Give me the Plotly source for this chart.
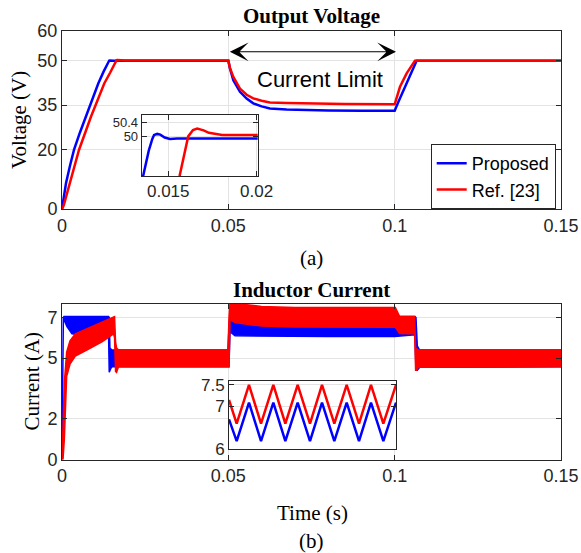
import plotly.graph_objects as go

# ---------------- data ----------------
# Output voltage (V) vs time (s)
t_v_prop = [0, 0.0005, 0.0012, 0.0024, 0.0036, 0.0054, 0.0072, 0.009, 0.0109, 0.0125,
            0.0136, 0.0139, 0.0141, 0.0142, 0.01438, 0.01455, 0.0148, 0.0151, 0.0155,
            0.05, 0.0505, 0.0515, 0.0535, 0.0555, 0.0575, 0.06, 0.0625, 0.0675, 0.0725,
            0.08, 0.09, 0.1, 0.1011, 0.1031, 0.1051, 0.1066, 0.15]
v_prop = [0, 4.2, 8.65, 14.6, 19.9, 25.8, 31.1, 36.8, 42.3, 46.3,
          48.93, 49.6, 49.93, 50.04, 50.07, 50.05, 49.97, 49.93, 49.94,
          49.94, 47.3, 43.4, 39.5, 37.2, 35.6, 34.6, 33.9, 33.5, 33.3,
          33.2, 33.15, 33.1, 36.1, 41.2, 46.2, 50.0, 50.0]

t_v_ref = [0, 0.0005, 0.0012, 0.0024, 0.0051, 0.0087, 0.0127, 0.0145, 0.01566, 0.0159,
           0.01613, 0.0164, 0.01664, 0.0170, 0.0173, 0.01805, 0.019,
           0.05, 0.0505, 0.0515, 0.0535, 0.0555, 0.0575, 0.06, 0.0625, 0.0675, 0.0725,
           0.085, 0.1, 0.1006, 0.1016, 0.1036, 0.105, 0.1061, 0.15]
v_ref = [0, 1.2, 4.0, 8.65, 19.9, 31.1, 42.3, 46.0, 48.93, 49.5,
         50.0, 50.18, 50.22, 50.17, 50.1, 50.04, 50.02,
         50.02, 47.5, 44.5, 40.6, 38.5, 37.3, 36.5, 35.9, 35.7, 35.6,
         35.4, 35.3, 37.8, 41.2, 45.7, 48.2, 50.0, 50.0]

# Inductor current ripple envelopes (A) vs time (s)
t_i_prop = [0, 0.0002, 0.0004, 0.0006, 0.0015, 0.003, 0.008, 0.0140, 0.0142, 0.0144,
            0.0147, 0.0150, 0.03, 0.0499, 0.0502, 0.0505, 0.052, 0.06, 0.08, 0.1,
            0.103, 0.1061, 0.1064, 0.1068, 0.1075, 0.15]
i_prop_hi = [0, 4.0, 7.0, 7.05, 7.05, 7.05, 7.05, 7.05, 7.0, 5.5,
             5.45, 5.4, 5.4, 5.4, 6.6, 7.15, 7.1, 7.08, 7.05, 7.05,
             7.05, 7.05, 7.0, 5.6, 5.4, 5.4]
i_prop_lo = [0, 3.5, 6.8, 6.9, 6.55, 6.2, 6.1, 6.1, 4.3, 4.35,
             4.5, 4.57, 4.57, 4.57, 4.57, 6.3, 6.1, 6.07, 6.07, 6.07,
             6.12, 6.15, 4.4, 4.4, 4.55, 4.57]

t_i_ref = [0, 0.0003, 0.0007, 0.0014, 0.0024, 0.004, 0.008, 0.012, 0.0155, 0.0158,
           0.0161, 0.0164, 0.0167, 0.017, 0.03, 0.0499, 0.0502, 0.0505, 0.052, 0.06,
           0.07, 0.1002, 0.1015, 0.104, 0.1060, 0.1063, 0.1066, 0.1071, 0.15]
i_ref_hi = [0, 2.0, 3.8, 5.3, 5.85, 6.2, 6.5, 6.8, 7.05, 7.05,
            5.8, 5.5, 5.45, 5.4, 5.4, 5.4, 7.0, 7.75, 7.7, 7.55,
            7.5, 7.5, 7.05, 7.05, 7.05, 5.5, 5.45, 5.4, 5.4]
i_ref_lo = [0, 0.0, 1.0, 4.1, 4.7, 5.1, 5.45, 5.8, 6.2, 6.0,
            4.35, 4.3, 4.45, 4.57, 4.57, 4.57, 4.57, 6.9, 6.75, 6.58,
            6.53, 6.52, 6.22, 6.2, 6.2, 4.4, 4.4, 4.55, 4.57]

# Inset: zoomed ripple (time in microseconds from window start)
t_rip_us = [0, 15.7, 40.9, 65.5, 90.7, 115.3, 140.5, 165.7, 190.3, 215.5,
            240.8, 266.0, 290.5, 315.8, 341.7]
i_rip_prop = [6.70, 6.19, 7.09, 6.19, 7.09, 6.19, 7.09, 6.19, 7.09, 6.19,
              7.09, 6.19, 7.09, 6.19, 7.09]
i_rip_ref = [7.15, 6.60, 7.50, 6.60, 7.50, 6.60, 7.50, 6.60, 7.50, 6.60,
             7.50, 6.60, 7.50, 6.60, 7.50]

series_names = ["Proposed", "Ref. [23]"]
x_ticks = [0, 0.05, 0.1, 0.15]
x_tick_text = ["0", "0.05", "0.1", "0.15"]
v_ticks = [0, 20, 35, 50, 60]
i_ticks = [0, 2, 5, 7]
v_inset_xticks = [0.015, 0.02]
v_inset_xtext = ["0.015", "0.02"]
v_inset_yticks = [50, 50.4]
i_inset_yticks = [6, 7, 7.5]

# ---------------- figure ----------------
W, H = 581, 553
BLUE, RED = "#0000FF", "#FF0000"
AX = "#262626"
GRID = "#e3e3e3"
SANS = "Liberation Sans, Arial, sans-serif"
SERIF = "Liberation Serif, Times New Roman, serif"

def px_x(p):
    return p / W

def px_y(p):
    return 1 - p / H

fig = go.Figure()

# Top main: output voltage
fig.add_trace(go.Scatter(x=t_v_prop, y=v_prop, mode="lines", name=series_names[0],
                         line=dict(color=BLUE, width=2.5), xaxis="x", yaxis="y"))
fig.add_trace(go.Scatter(x=t_v_ref, y=v_ref, mode="lines", name=series_names[1],
                         line=dict(color=RED, width=2.5), xaxis="x", yaxis="y"))
# Top inset
fig.add_trace(go.Scatter(x=t_v_prop, y=v_prop, mode="lines", showlegend=False,
                         line=dict(color=BLUE, width=2.5), xaxis="x2", yaxis="y2"))
fig.add_trace(go.Scatter(x=t_v_ref, y=v_ref, mode="lines", showlegend=False,
                         line=dict(color=RED, width=2.5), xaxis="x2", yaxis="y2"))

# Bottom main: inductor current ripple bands
fig.add_trace(go.Scatter(x=t_i_prop + t_i_prop[::-1], y=i_prop_hi + i_prop_lo[::-1],
                         mode="lines", fill="toself", fillcolor=BLUE, showlegend=False,
                         line=dict(color=BLUE, width=1.5), xaxis="x3", yaxis="y3"))
fig.add_trace(go.Scatter(x=t_i_ref + t_i_ref[::-1], y=i_ref_hi + i_ref_lo[::-1],
                         mode="lines", fill="toself", fillcolor=RED, showlegend=False,
                         line=dict(color=RED, width=1.5), xaxis="x3", yaxis="y3"))
# Bottom inset
fig.add_trace(go.Scatter(x=t_rip_us, y=i_rip_prop, mode="lines", showlegend=False,
                         line=dict(color=BLUE, width=2.5), xaxis="x4", yaxis="y4"))
fig.add_trace(go.Scatter(x=t_rip_us, y=i_rip_ref, mode="lines", showlegend=False,
                         line=dict(color=RED, width=2.5), xaxis="x4", yaxis="y4"))

def axis_style(size=18, grid=True):
    return dict(showline=True, linecolor=AX, linewidth=1, mirror="ticks",
                ticks="inside", ticklen=5, tickcolor=AX, tickwidth=1,
                showgrid=grid, gridcolor=GRID, gridwidth=1, zeroline=False,
                automargin=False,
                tickfont=dict(family=SANS, size=size, color=AX))

main_x_dom = [px_x(62), px_x(561)]
fig.update_layout(
    width=W, height=H,
    margin=dict(l=0, r=0, t=0, b=0),
    paper_bgcolor="white", plot_bgcolor="white",
    xaxis=dict(domain=main_x_dom, anchor="y", range=[0, 0.15],
               tickvals=x_ticks, ticktext=x_tick_text, **axis_style()),
    yaxis=dict(domain=[px_y(209), px_y(31)], anchor="x", range=[0, 60],
               tickvals=v_ticks, **axis_style()),
    xaxis2=dict(domain=[px_x(141.7), px_x(257.7)], anchor="y2", range=[0.0135, 0.02006],
                tickvals=v_inset_xticks, ticktext=v_inset_xtext, **axis_style(17)),
    yaxis2=dict(domain=[px_y(176), px_y(115)], anchor="x2", range=[48.89, 50.6],
                tickvals=v_inset_yticks, ticktext=["50", "50.4"], **axis_style(13)),
    xaxis3=dict(domain=main_x_dom, anchor="y3", range=[0, 0.15],
                tickvals=x_ticks, ticktext=x_tick_text, **axis_style()),
    yaxis3=dict(domain=[px_y(459.5), px_y(304)], anchor="x3", range=[0, 7.67],
                tickvals=i_ticks, **axis_style()),
    xaxis4=dict(domain=[px_x(229), px_x(396)], anchor="y4", range=[0, 341.7],
                tickvals=[0, 341.7], showticklabels=False, **axis_style(16, grid=False)),
    yaxis4=dict(domain=[px_y(449.3), px_y(380.7)], anchor="x4", range=[6, 7.6],
                tickvals=i_inset_yticks, ticktext=["6", "7", "7.5"], **axis_style(17)),
    legend=dict(x=px_x(555.7), xanchor="right", y=px_y(144), yanchor="top",
                bgcolor="white", bordercolor=AX, borderwidth=1,
                font=dict(family=SANS, size=18, color="black"),
                tracegroupgap=0),
    showlegend=True,
)

# Double-headed arrow and label for the current-limit interval
fig.add_annotation(x=0.1004, y=53, ax=0.05, ay=53, xref="x", yref="y",
                   axref="x", ayref="y", text="", showarrow=True,
                   arrowhead=3, startarrowhead=3, arrowside="end+start",
                   arrowsize=2.6, startarrowsize=2.6, arrowwidth=1.2, arrowcolor="black",
                   standoff=0, startstandoff=0)
fig.add_annotation(x=0.0776, y=43.6, xref="x", yref="y", text="Current Limit",
                   showarrow=False, font=dict(family=SANS, size=22, color="black"),
                   xanchor="center", yanchor="middle")

texts = [
    ("<b>Output Voltage</b>", 311.5, 16, 0),
    ("(a)", 311, 258, 0),
    ("<b>Inductor Current</b>", 311.5, 290, 0),
    ("Time (s)", 312, 513, 0),
    ("(b)", 311, 541, 0),
    ("Voltage (V)", 19, 120, -90),
    ("Current (A)", 31, 381.5, -90),
]
for txt, xp, yp, ang in texts:
    fig.add_annotation(x=px_x(xp), y=px_y(yp), xref="paper", yref="paper", text=txt,
                       showarrow=False, textangle=ang,
                       font=dict(family=SERIF, size=21, color="black"),
                       xanchor="center", yanchor="middle")

fig.write_html("out.html", config={"displayModeBar": False},
               post_script="document.body.style.margin='0';document.body.style.padding='0';")
